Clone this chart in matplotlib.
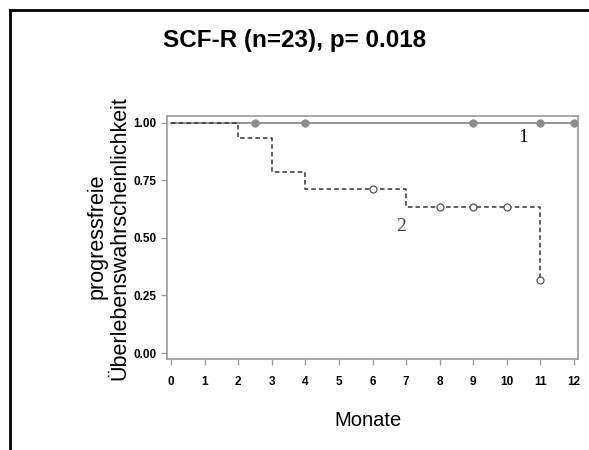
import matplotlib.pyplot as plt
from matplotlib.lines import Line2D

# Gruppe 1: keine Ereignisse, nur zensierte Beobachtungen
g1_zeit = [0, 12]
g1_surv = [1.0, 1.0]
g1_zens_x = [2.5, 4, 9, 11, 12]
g1_zens_y = [1.0, 1.0, 1.0, 1.0, 1.0]

# Gruppe 2: Stufenfunktion
g2_zeit = [0, 2, 3, 4, 7, 11, 11]
g2_surv = [1.0, 0.933, 0.786, 0.714, 0.635, 0.317, 0.317]
g2_zens_x = [6, 8, 9, 10, 11]
g2_zens_y = [0.714, 0.635, 0.635, 0.635, 0.317]

x_ticks = list(range(0, 13))
y_ticks = [0.0, 0.25, 0.5, 0.75, 1.0]

W, H = 589, 450
fig = plt.figure(figsize=(W / 100, H / 100), dpi=100)
plt.rcParams['font.family'] = ['Liberation Sans', 'DejaVu Sans']

# schwarzer Rahmen (rechts/unten abgeschnitten)
fig.add_artist(Line2D([9.5 / W, 9.5 / W], [0, 1 - 9.5 / H], transform=fig.transFigure,
                      color='black', linewidth=2))
fig.add_artist(Line2D([9.5 / W, 1], [1 - 9.5 / H, 1 - 9.5 / H], transform=fig.transFigure,
                      color='black', linewidth=2))

ax = fig.add_axes([167 / W, 1 - 359 / H, (578 - 167) / W, (359 - 116) / H])

ax.plot(g1_zeit, g1_surv, color='#8c8c8c', linewidth=1.3)
ax.plot(g1_zens_x, g1_zens_y, 'o', color='#8c8c8c', markersize=5, clip_on=False)

ax.step(g2_zeit, g2_surv, where='post', color='#333333', linestyle=(0, (3, 2)),
        linewidth=1.1)
ax.plot(g2_zens_x, g2_zens_y, 'o', markerfacecolor='white', markeredgecolor='#555555',
        markersize=5, markeredgewidth=0.9)

ax.text(10.5, 0.935, '1', family='Liberation Serif', fontsize=14, ha='center', va='center')
ax.text(6.85, 0.548, '2', family='Liberation Serif', fontsize=14, ha='center', va='center',
        color='#444444')

ax.set_xlim(-0.12, 12.12)
ax.set_ylim(-0.026, 1.03)
ax.set_xticks(x_ticks)
ax.set_yticks(y_ticks)
ax.set_xticklabels([str(t) for t in x_ticks], fontsize=8.5, fontweight='bold')
ax.set_yticklabels(['%.2f' % t for t in y_ticks], fontsize=8.5, fontweight='bold')
for s in ax.spines.values():
    s.set_color('#999999')
    s.set_linewidth(1.2)
ax.tick_params(axis='both', color='#999999', length=4, width=1, direction='out')
ax.tick_params(axis='x', pad=8)

fig.text(295 / W, 1 - 41 / H, 'SCF-R (n=23), p= 0.018', ha='center', va='center',
         fontsize=17.5, fontweight='bold')
fig.text(97 / W, 1 - 236 / H, 'progressfreie', rotation=90, ha='center', va='center',
         fontsize=15.5)
fig.text(120 / W, 1 - 238 / H, 'Überlebenswahrscheinlichkeit', rotation=90, ha='center',
         va='center', fontsize=15.5)
fig.text(368 / W, 1 - 420 / H, 'Monate', ha='center', va='center', fontsize=14.5)

fig.savefig('out.png', dpi=100)
